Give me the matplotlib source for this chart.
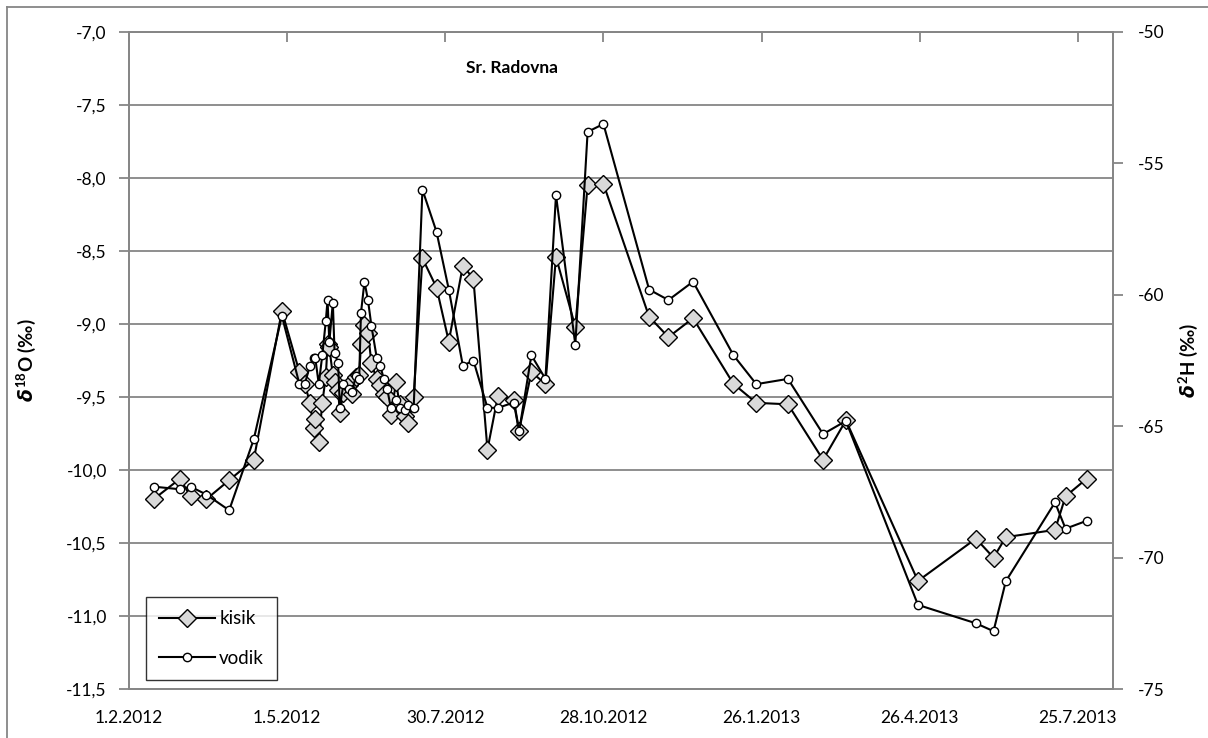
import pandas as pd
import matplotlib
matplotlib.use('Agg')
from matplotlib import pyplot as plt
from matplotlib.ticker import FuncFormatter, MultipleLocator
from matplotlib.lines import Line2D
import matplotlib.dates as mdates

plt.rcParams['font.family'] = ['Lato', 'DejaVu Sans']
plt.rcParams['mathtext.fontset'] = 'custom'
plt.rcParams['mathtext.it'] = 'DejaVu Sans:italic:bold'
plt.rcParams['mathtext.rm'] = 'Lato:bold'
plt.rcParams['mathtext.bf'] = 'Lato:bold'

dates = ['2012-02-15', '2012-03-01', '2012-03-07', '2012-03-16', '2012-03-29', '2012-04-12',
         '2012-04-28', '2012-05-08', '2012-05-11', '2012-05-14', '2012-05-16', '2012-05-17',
         '2012-05-19', '2012-05-21', '2012-05-23', '2012-05-24', '2012-05-25', '2012-05-27',
         '2012-05-28', '2012-05-30', '2012-05-31', '2012-06-02', '2012-06-05', '2012-06-07',
         '2012-06-09', '2012-06-11', '2012-06-12', '2012-06-14', '2012-06-16', '2012-06-18',
         '2012-06-21', '2012-06-23', '2012-06-25', '2012-06-27', '2012-06-29', '2012-07-02',
         '2012-07-04', '2012-07-07', '2012-07-09', '2012-07-12', '2012-07-17', '2012-07-25',
         '2012-08-01', '2012-08-09', '2012-08-15', '2012-08-23', '2012-08-29', '2012-09-07',
         '2012-09-10', '2012-09-17', '2012-09-25', '2012-10-01', '2012-10-12', '2012-10-19',
         '2012-10-28', '2012-11-23', '2012-12-04', '2012-12-18', '2013-01-10', '2013-01-23',
         '2013-02-10', '2013-03-02', '2013-03-15', '2013-04-25', '2013-05-28', '2013-06-07',
         '2013-06-14', '2013-07-12', '2013-07-18', '2013-07-30']

# delta 18O (left axis)
kisik = [-10.20, -10.06, -10.18, -10.20, -10.07, -9.93,
         -8.91, -9.33, -9.41, -9.54, -9.71, -9.65,
         -9.81, -9.54, -9.36, -9.14, -9.16, -9.35,
         -9.40, -9.45, -9.61, -9.47, -9.42, -9.48,
         -9.36, -9.35, -9.14, -9.01, -9.06, -9.27,
         -9.38, -9.42, -9.48, -9.50, -9.62, -9.40,
         -9.55, -9.63, -9.68, -9.50, -8.55, -8.75,
         -9.12, -8.60, -8.69, -9.86, -9.49, -9.52,
         -9.73, -9.33, -9.41, -8.54, -9.02, -8.05,
         -8.04, -8.95, -9.09, -8.96, -9.41, -9.54,
         -9.55, -9.93, -9.66, -10.76, -10.47, -10.60,
         -10.46, -10.41, -10.18, -10.06]

# delta 2H (right axis)
vodik = [-67.3, -67.4, -67.3, -67.6, -68.2, -65.5,
         -60.8, -63.4, -63.4, -62.7, -62.4, -62.4,
         -63.4, -62.3, -61.0, -60.2, -61.8, -60.3,
         -62.2, -62.6, -64.3, -63.4, -63.6, -63.7,
         -63.1, -63.2, -60.7, -59.5, -60.2, -61.2,
         -62.4, -62.7, -63.2, -63.6, -64.3, -64.0,
         -64.3, -64.4, -64.2, -64.3, -56.0, -57.6,
         -59.8, -62.7, -62.5, -64.3, -64.3, -64.1,
         -65.2, -62.3, -63.2, -56.2, -61.9, -53.8,
         -53.5, -59.8, -60.2, -59.5, -62.3, -63.4,
         -63.2, -65.3, -64.8, -71.8, -72.5, -72.8,
         -70.9, -67.9, -68.9, -68.6]

x = pd.to_datetime(dates)
x_ticks = pd.date_range('2012-02-01', periods=7, freq='90D')
x_min = pd.Timestamp('2012-02-01')
x_max = x_min + pd.Timedelta(days=560)

grid_col = '#868686'

fig = plt.figure(figsize=(12.08, 7.38), dpi=100)
ax = fig.add_axes([129 / 1208, 1 - 689 / 738, (1113 - 129) / 1208, (689 - 32) / 738])
ax2 = ax.twinx()

ax.plot(x, kisik, color='black', lw=1.5, marker='D', ms=9, mfc='#d9d9d9', mec='black', mew=1.0,
        zorder=3)
ax2.plot(x, vodik, color='black', lw=1.5, marker='o', ms=6, mfc='white', mec='black', mew=1.0,
         zorder=3)

ax.set_xlim(x_min, x_max)
ax.set_ylim(-11.5, -7.0)
ax2.set_ylim(-75, -50)
ax.yaxis.set_major_locator(MultipleLocator(0.5))
ax2.yaxis.set_major_locator(MultipleLocator(5))
ax.yaxis.set_major_formatter(FuncFormatter(lambda v, p: f'{v:.1f}'.replace('.', ',')))
ax2.yaxis.set_major_formatter(FuncFormatter(lambda v, p: f'{v:.0f}'))

ax.set_xticks(x_ticks)
ax.xaxis.set_major_formatter(FuncFormatter(
    lambda v, p: (lambda d: f'{d.day}.{d.month}.{d.year}')(mdates.num2date(v))))

ax.grid(axis='y', color=grid_col, lw=1.3)
ax.set_axisbelow(True)
for a in (ax, ax2):
    for s in a.spines.values():
        s.set_color(grid_col)
        s.set_linewidth(1.3)

ax.tick_params(axis='x', bottom=False, top=True, direction='in', length=7, width=1.3,
               color=grid_col, labelsize=12.5, pad=15)
ax.tick_params(axis='y', direction='out', length=7, width=1.3, color=grid_col, labelsize=12.5,
               pad=9)
ax2.tick_params(axis='y', direction='out', length=7, width=1.3, color=grid_col, labelsize=12.5,
                pad=11)

ax.set_ylabel(r'$\delta^{18}$O (‰)', fontsize=13.5, fontweight='bold', labelpad=20)
ax2.set_ylabel(r'$\delta^{2}$H (‰)', fontsize=13.5, fontweight='bold', labelpad=8)

ax.text(0.389, 0.945, 'Sr. Radovna', transform=ax.transAxes, ha='center', va='center',
        fontsize=12.5, fontweight='bold')

handles = [Line2D([], [], color='black', lw=1.5, marker='D', ms=9, mfc='#d9d9d9', mec='black'),
           Line2D([], [], color='black', lw=1.5, marker='o', ms=6, mfc='white', mec='black')]
leg = ax2.legend(handles, ['kisik', 'vodik'], loc='upper left', bbox_to_anchor=(0.0173, 0.140),
                 borderaxespad=0, fontsize=13.5, frameon=True, fancybox=False, labelspacing=1.2,
                 handlelength=3.0, handletextpad=0.2, borderpad=0.7)
leg.get_frame().set_edgecolor('black')
leg.get_frame().set_linewidth(1.0)

# outer chart border
fig.add_artist(Line2D([6.5 / 1208, 6.5 / 1208], [0, 1 - 7 / 738], color=grid_col, lw=1.3,
                      transform=fig.transFigure))
fig.add_artist(Line2D([6.5 / 1208, 1], [1 - 7 / 738, 1 - 7 / 738], color=grid_col, lw=1.3,
                      transform=fig.transFigure))

fig.savefig('out.png', dpi=100)
plt.close(fig)
